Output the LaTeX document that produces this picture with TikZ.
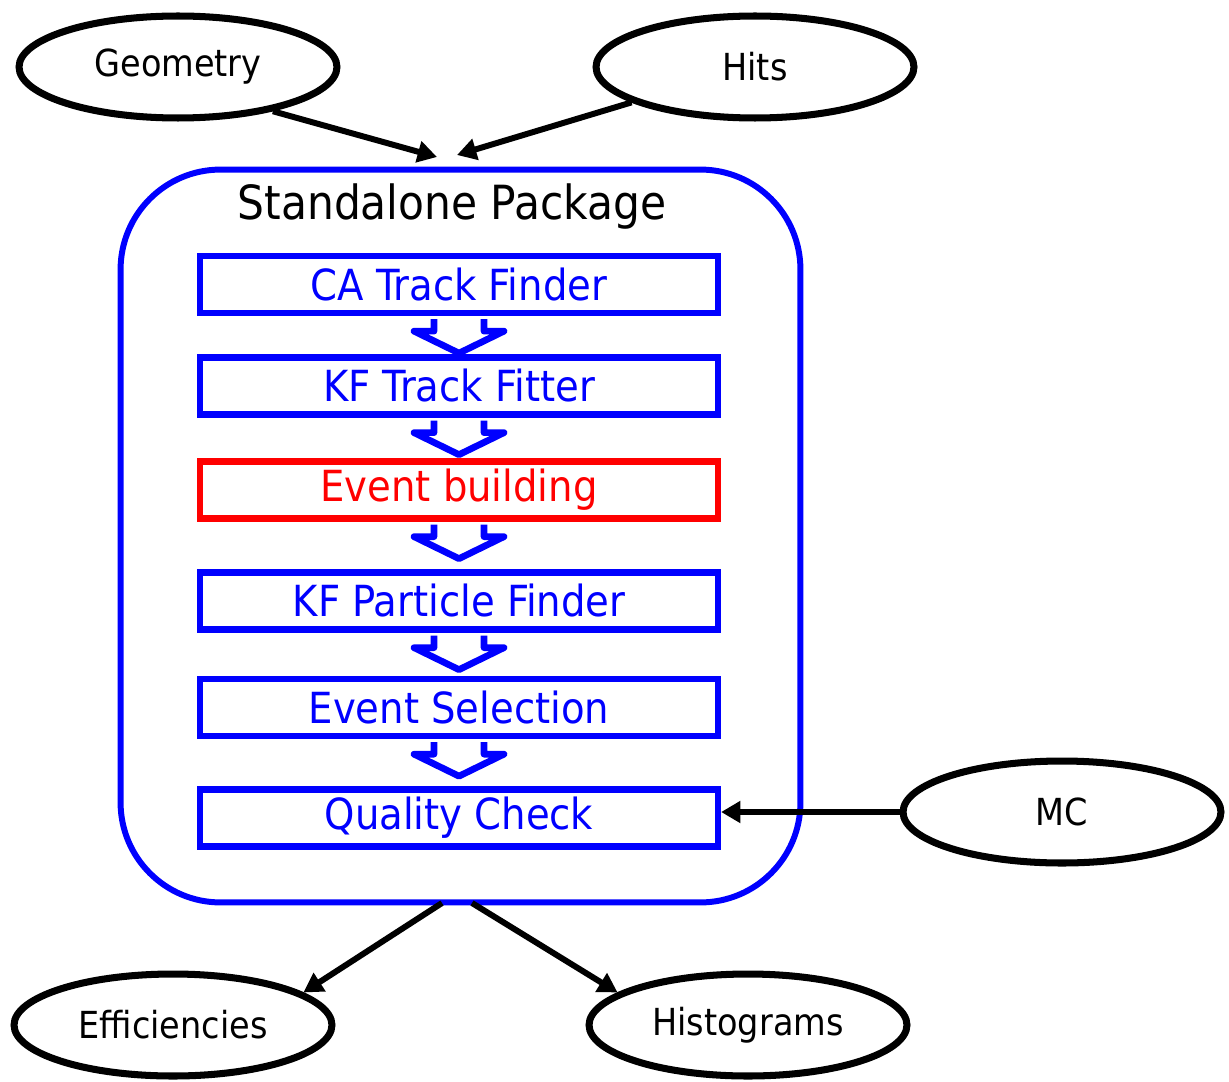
\documentclass[tikz,border=0pt]{standalone}
\usepackage{fontspec}
\setmainfont{DejaVu Sans Condensed}
\usetikzlibrary{arrows.meta,calc,shapes.geometric}

\newcommand{\flowarrow}[1]{\draw[flow] ($(#1.south)+(-25,3)$) -- ++(0,12) -- ++(-20,0) -- ++(45,22) -- ++(45,-22) -- ++(-20,0) -- ++(0,-12);}

\begin{document}
\begin{tikzpicture}[x=0.02cm, y=-0.02cm, ->, >={Triangle[length=11pt,width=12pt]}, line width=3.4pt]
    \tikzstyle{source}=[ellipse, draw=black, line width=4pt, minimum width=6.36cm, minimum height=2.04cm, font=\fontsize{21.2}{25}\selectfont]
    \tikzstyle{package}=[rectangle, draw=blue, rounded corners=2cm, line width=3.4pt, minimum width=13.6cm, minimum height=14.66cm]
    \tikzstyle{stage}=[rectangle, draw=blue, text=blue, line width=3.6pt, minimum width=10.36cm, minimum height=1.14cm, font=\fontsize{24.4}{28}\selectfont]
    \tikzstyle{flow}=[-, draw=blue, fill=white, line width=3.8pt, line join=round]

    \useasboundingbox (0,0) rectangle (1229,1081);

    % Inputs and outputs
    \node[source] (Geometry) at (178,67) {Geometry};
    \node[source] (Hits) at (755,67) {Hits};
    \node[source] (MC) at (1062,812) {MC};
    \node[source] (Eff) at (173,1025) {Efficiencies};
    \node[source] (Hist) at (748,1025) {Histograms};

    % The package
    \node[package] (Pkg) at (460.5,536) {};
    \node[font=\fontsize{26.8}{31}\selectfont] (Title) at (452,207) {Standalone Package};

    \node[stage] (CA) at (459,284.5) {CA Track Finder};
    \node[stage] (KF) at (459,386) {KF Track Fitter};
    \node[stage, draw=red, text=red] (EB) at (459,490) {Event building};
    \node[stage] (KFP) at (459,601) {KF Particle Finder};
    \node[stage] (ES) at (459,707.5) {Event Selection};
    \node[stage] (QC) at (459,818) {Quality Check};

    % Flow between the stages
    \flowarrow{CA}
    \flowarrow{KF}
    \flowarrow{EB}
    \flowarrow{KFP}
    \flowarrow{ES}

    \coordinate (In-Geo) at (437,157);
    \coordinate (In-Hits) at (457,155);
    \coordinate (Out-Eff) at (442,903);
    \coordinate (Out-Hist) at (472,903);

    \path (Geometry.-25) edge (In-Geo);
    \path (Hits.196) edge (In-Hits);
    \path (MC.west) edge (MC.west -| QC.east);
    \path (Out-Eff) edge (Eff.14);
    \path (Out-Hist) edge (Hist.166);

\end{tikzpicture}
\end{document}
